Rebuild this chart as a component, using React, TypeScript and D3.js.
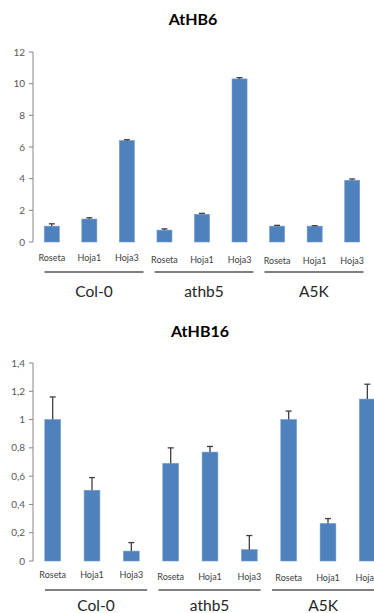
import * as d3 from "d3"

// shared categories
const samples = ["Roseta", "Hoja1", "Hoja3"]
const genotypes = ["Col-0", "athb5", "A5K"]

// AtHB6 expression (mean, error) per genotype x sample
const athb6Values = [1.0, 1.45, 6.4, 0.75, 1.75, 10.3, 1.0, 1.0, 3.9]
const athb6Errors = [0.15, 0.08, 0.06, 0.08, 0.06, 0.08, 0.05, 0.03, 0.08]
const athb6Ticks = [0, 2, 4, 6, 8, 10, 12]

// AtHB16 expression
const athb16Values = [1.0, 0.5, 0.07, 0.69, 0.77, 0.08, 1.0, 0.265, 1.145]
const athb16Errors = [0.16, 0.09, 0.06, 0.11, 0.04, 0.1, 0.06, 0.035, 0.105]
const athb16Ticks = [0, 0.2, 0.4, 0.6, 0.8, 1, 1.2, 1.4]

const BAR = "#4F81BD"
const FONT = "Lato, 'Open Sans', sans-serif"

interface PanelProps {
  title: string
  titleX: number
  titleY: number
  values: number[]
  errors: number[]
  ticks: number[]
  yTop: number
  yBottom: number
  axisX: number
  xEnd: number
  labelY: number
  lineY: number
  groupY: number
  groupStart: number
  groupStep: number
}

function Panel(p: PanelProps) {
  const keys = p.values.map((_, i) => String(i))
  const y = d3.scaleLinear().domain([0, p.ticks[p.ticks.length - 1]]).range([p.yBottom, p.yTop])
  const x = d3.scaleBand<string>().domain(keys).range([p.axisX, p.xEnd]).paddingInner(0.6).paddingOuter(0.3)
  // genotype brackets under the sample labels
  const g = d3
    .scaleBand<string>()
    .domain(genotypes)
    .range([p.groupStart, p.groupStart + p.groupStep * 2.9])
    .paddingInner(0.1)
  const fmt = (v: number) => String(v).replace(".", ",")

  return (
    <g>
      <text x={p.titleX} y={p.titleY} textAnchor="middle" fontFamily={FONT} fontWeight="bold" fontSize={16} fill="#000">
        {p.title}
      </text>
      <line x1={p.axisX} x2={p.axisX} y1={y(p.ticks[p.ticks.length - 1])} y2={y(0)} stroke="#868686" strokeWidth={1} />
      {p.ticks.map((t) => (
        <g key={t}>
          <line x1={p.axisX - 4} x2={p.axisX} y1={y(t)} y2={y(t)} stroke="#868686" strokeWidth={1} />
          <text x={p.axisX - 8} y={y(t)} dy="0.35em" textAnchor="end" fontFamily={FONT} fontSize={10} fill="#595959">
            {fmt(t)}
          </text>
        </g>
      ))}
      {p.values.map((v, i) => {
        const cx = x(String(i))! + x.bandwidth() / 2
        const top = y(v + p.errors[i])
        return (
          <g key={i}>
            <rect x={x(String(i))} y={y(v)} width={x.bandwidth()} height={y(0) - y(v)} fill={BAR} stroke="#6F9AD0" strokeWidth={0.6} />
            <line x1={cx} x2={cx} y1={y(v)} y2={top} stroke="#404040" strokeWidth={1.3} />
            <line x1={cx - 3} x2={cx + 3} y1={top} y2={top} stroke="#404040" strokeWidth={1.3} />
            <text
              x={cx}
              y={p.labelY + Math.floor(i / 3) * 1.5}
              textAnchor="middle"
              fontFamily={FONT}
              fontSize={9}
              fill="#404040"
            >
              {samples[i % 3]}
            </text>
          </g>
        )
      })}
      {genotypes.map((name) => (
        <g key={name}>
          <line x1={g(name)} x2={g(name)! + g.bandwidth()} y1={p.lineY} y2={p.lineY} stroke="#808080" strokeWidth={2} />
          <text x={g(name)! + g.bandwidth() / 2} y={p.groupY} textAnchor="middle" fontFamily={FONT} fontSize={15.5} fill="#262626">
            {name}
          </text>
        </g>
      ))}
    </g>
  )
}

export default function App() {
  return (
    <div style={{ position: "fixed", left: 0, top: 0, width: 374, height: 613, background: "#fff" }}>
      <svg width={374} height={613} style={{ display: "block" }}>
        <Panel
          title="AtHB6"
          titleX={193}
          titleY={25}
          values={athb6Values}
          errors={athb6Errors}
          ticks={athb6Ticks}
          yTop={52}
          yBottom={242}
          axisX={33}
          xEnd={371}
          labelY={261}
          lineY={272}
          groupY={297}
          groupStart={44.5}
          groupStep={110}
        />
        <Panel
          title="AtHB16"
          titleX={200}
          titleY={337}
          values={athb16Values}
          errors={athb16Errors}
          ticks={athb16Ticks}
          yTop={363}
          yBottom={561}
          axisX={33}
          xEnd={387}
          labelY={578}
          lineY={590}
          groupY={611}
          groupStart={45}
          groupStep={113.5}
        />
      </svg>
    </div>
  )
}
